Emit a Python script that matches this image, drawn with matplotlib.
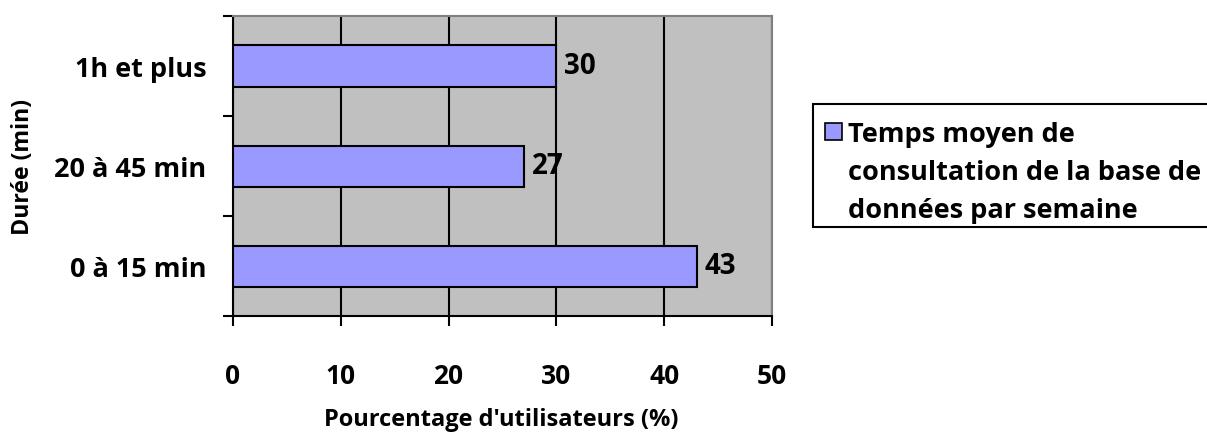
import matplotlib
matplotlib.use("Agg")
import matplotlib.pyplot as plt
from matplotlib.patches import Rectangle

categories = ["0 à 15 min", "20 à 45 min", "1h et plus"]
values = [43, 27, 30]
xticks = [0, 10, 20, 30, 40, 50]
legend_lines = ["Temps moyen de", "consultation de la base de", "données par semaine"]

plt.rcParams['font.family'] = ['Open Sans', 'DejaVu Sans']
plt.rcParams['font.weight'] = 'bold'

W, H = 1207, 435
fig = plt.figure(figsize=(W/100, H/100), dpi=100)
ax = fig.add_axes([233/W, 1-317/H, (772-233)/W, (317-17)/H])
ax.set_facecolor('#C0C0C0')

BAR_COLOR = '#9999FF'
y = list(range(len(categories)))
ax.barh(y, values, height=0.41, color=BAR_COLOR, edgecolor='black', linewidth=1.5, zorder=3)
for yi, v in zip(y, values):
    ax.annotate(str(v), xy=(v, yi), xytext=(5.5, 0), textcoords='offset points',
                va='center', ha='left', fontsize=20, fontweight='bold', zorder=4)

ax.set_xlim(0, 50)
ax.set_ylim(-0.5, 2.5)
ax.set_xticks(xticks)
ax.set_xticklabels([str(t) for t in xticks], fontsize=19, fontweight='bold')
ax.set_yticks(y)
ax.set_yticklabels(categories, fontsize=19.5, fontweight='bold')
ax.set_yticks([-0.5, 0.5, 1.5, 2.5], minor=True)
ax.tick_params(axis='y', which='major', length=0, pad=19)
ax.tick_params(axis='y', which='minor', length=7, width=1.5, direction='out')
ax.tick_params(axis='x', which='major', length=7, width=1.5, direction='out', pad=26)
ax.xaxis.grid(True, color='black', linewidth=1.5, zorder=1)
ax.set_axisbelow(True)
for s in ['top', 'right']:
    ax.spines[s].set_color('#808080')
    ax.spines[s].set_linewidth(1.5)
for s in ['left', 'bottom']:
    ax.spines[s].set_color('black')
    ax.spines[s].set_linewidth(1.5)

fig.text(501/W, 1-420/H, "Pourcentage d'utilisateurs (%)", va='center', ha='center', fontsize=17, fontweight='bold')
fig.text(23/W, 1-167/H, "Durée (min)", rotation=90, va='center', ha='center', fontsize=16.7, fontweight='bold')

# legend drawn by hand (box runs off the right edge, as in the reference)
fig.patches.append(Rectangle((813/W, 1-228/H), (1220-813)/W, (228-105)/H, transform=fig.transFigure,
                             facecolor='white', edgecolor='black', linewidth=1.5, zorder=5))
fig.patches.append(Rectangle((825/W, 1-141/H), 17/W, 17/H, transform=fig.transFigure,
                             facecolor=BAR_COLOR, edgecolor='black', linewidth=1.2, zorder=6))
for i, line in enumerate(legend_lines):
    fig.text(848/W, 1-(142 + 38*i)/H, line, va='baseline', ha='left', fontsize=19.5, fontweight='bold', zorder=7)

fig.savefig("out.png", dpi=100)
